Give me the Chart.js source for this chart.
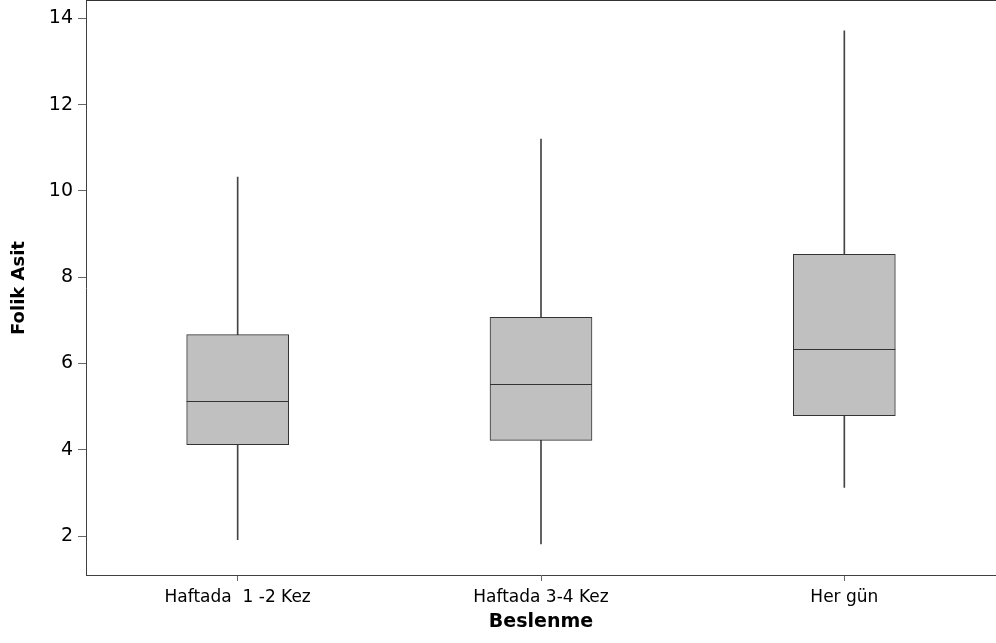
<!DOCTYPE html>
<html>
<head>
<meta charset="utf-8">
<title>Folik Asit - Beslenme</title>
<script src="https://cdn.jsdelivr.net/npm/chart.js@4.4.1/dist/chart.umd.min.js"></script>
<style>
  html, body { margin: 0; padding: 0; background: #fff; }
  #wrap { width: 996px; height: 643px; position: relative; }
</style>
</head>
<body>
<div id="wrap"><canvas id="boxchart"></canvas></div>
<script>
// data
var categories = ['Haftada  1 -2 Kez', 'Haftada 3-4 Kez', 'Her gün'];
var whiskerMin = [1.92, 1.82, 3.13];
var q1 = [4.12, 4.22, 4.79];
var median = [5.13, 5.52, 6.33];
var q3 = [6.67, 7.07, 8.53];
var whiskerMax = [10.32, 11.20, 13.71];
var yTicks = [2, 4, 6, 8, 10, 12, 14];

var boxes = categories.map(function (c, i) { return [q1[i], q3[i]]; });
var whiskers = categories.map(function (c, i) { return [whiskerMin[i], whiskerMax[i]]; });

// median lines + top frame line
var boxExtras = {
  id: 'boxExtras',
  afterDatasetsDraw: function (chart) {
    var ctx = chart.ctx;
    var y = chart.scales.y;
    var meta = chart.getDatasetMeta(0);
    ctx.save();
    ctx.strokeStyle = '#333';
    ctx.lineWidth = 1;
    meta.data.forEach(function (bar, i) {
      var py = Math.round(y.getPixelForValue(median[i])) + 0.5;
      ctx.beginPath();
      ctx.moveTo(bar.x - bar.width / 2, py);
      ctx.lineTo(bar.x + bar.width / 2, py);
      ctx.stroke();
    });
    var a = chart.chartArea;
    ctx.strokeStyle = '#333';
    ctx.beginPath();
    ctx.moveTo(a.left, a.top - 0.5);
    ctx.lineTo(a.right, a.top - 0.5);
    ctx.stroke();
    ctx.restore();
  }
};

var ctx = document.getElementById('boxchart');
var boxchart = new Chart(ctx, {
  type: 'bar',
  data: {
    labels: categories,
    datasets: [{
      label: 'box',
      data: boxes,
      grouped: false,
      barThickness: 102,
      backgroundColor: '#c0c0c0',
      borderColor: '#333',
      borderWidth: 1,
      borderSkipped: false
    }, {
      label: 'whisker',
      data: whiskers,
      grouped: false,
      barThickness: 1,
      backgroundColor: '#444',
      borderWidth: 0
    }]
  },
  options: {
    responsive: true,
    maintainAspectRatio: false,
    animation: false,
    layout: { padding: { top: 1, right: 0, left: 0, bottom: 0 } },
    plugins: {
      legend: { display: false },
      tooltip: { enabled: false }
    },
    scales: {
      x: {
        offset: true,
        grid: { drawOnChartArea: false, offset: false, tickLength: 6, color: '#666' },
        border: { color: '#404040', width: 1 },
        ticks: { color: '#000', padding: 6, maxRotation: 0, font: { family: 'DejaVu Sans', size: 17 } },
        title: {
          display: true,
          text: 'Beslenme',
          color: '#000',
          padding: { top: 0, bottom: 10 },
          font: { family: 'DejaVu Sans', size: 19, weight: 'bold' }
        },
        afterFit: function (scale) {
          scale.height = 68;
          scale.paddingLeft = 0;
          scale.paddingRight = 0;
        }
      },
      y: {
        min: 1.1,
        max: 14.4,
        afterBuildTicks: function (scale) {
          scale.ticks = yTicks.map(function (v) { return { value: v }; });
        },
        grid: { drawOnChartArea: false, tickLength: 8, color: '#666' },
        border: { color: '#404040', width: 1 },
        ticks: { color: '#000', padding: 5, font: { family: 'DejaVu Sans', size: 19 } },
        title: {
          display: true,
          text: 'Folik Asit',
          color: '#000',
          padding: { top: 9, bottom: 0 },
          font: { family: 'DejaVu Sans', size: 18, weight: 'bold' }
        },
        afterFit: function (scale) {
          scale.width = 86;
          scale.paddingTop = 0;
          scale.paddingBottom = 0;
        }
      }
    }
  },
  plugins: [boxExtras]
});
</script>
</body>
</html>
